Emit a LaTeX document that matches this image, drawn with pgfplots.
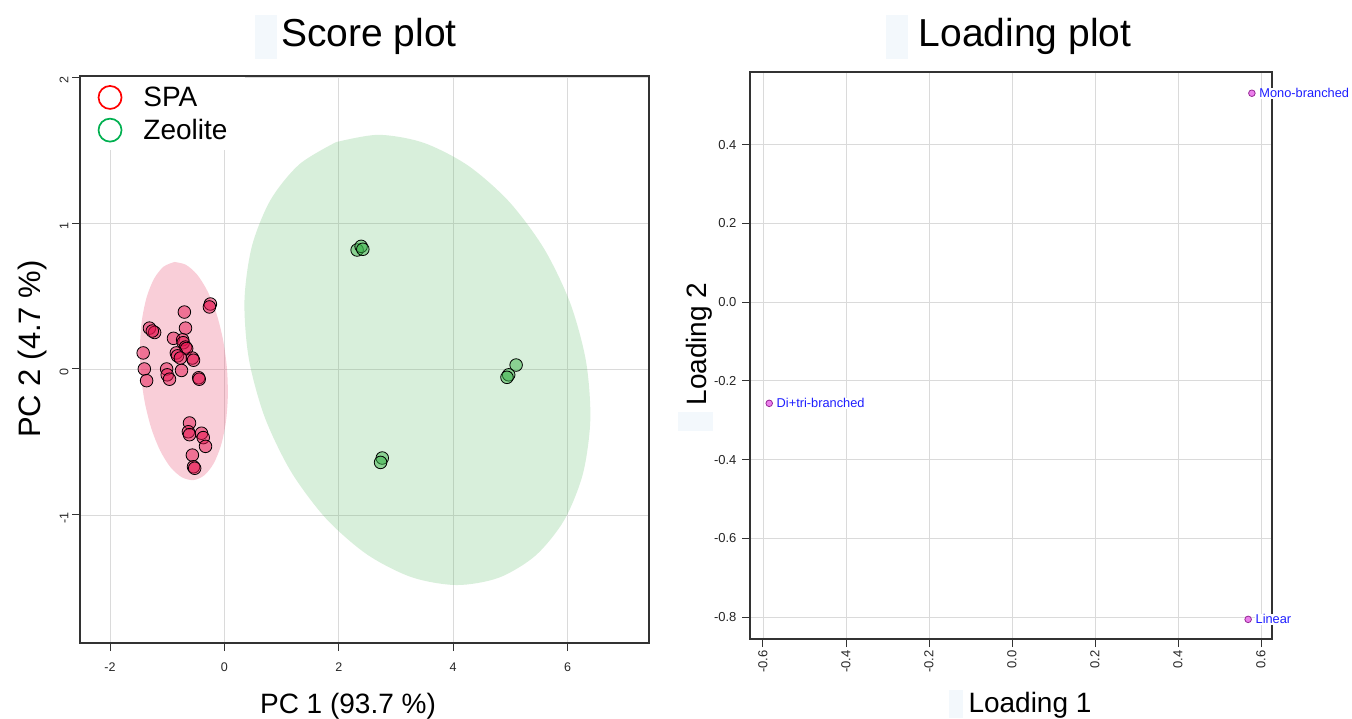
\documentclass[border=0pt]{standalone}
\usepackage{fontspec}
\setmainfont{Liberation Sans}
\usepackage{pgfplots}
\pgfplotsset{compat=1.18}
\definecolor{gridc}{RGB}{218,218,218}
\definecolor{spaell}{RGB}{230,60,100}
\definecolor{zeoell}{RGB}{100,190,110}
\definecolor{spapt}{RGB}{230,20,80}
\definecolor{zeopt}{RGB}{60,180,75}
\definecolor{legred}{RGB}{255,0,0}
\definecolor{leggreen}{RGB}{0,176,80}
\definecolor{hilite}{RGB}{243,248,252}
\definecolor{loadfill}{RGB}{236,128,236}
\definecolor{loaddraw}{RGB}{150,40,150}
\definecolor{labblue}{RGB}{30,30,255}
\pgfplotsset{
  spaleg/.style={legend image code/.code={\draw[legred,line width=1.7pt] (0pt,0pt) circle (11.5pt);}},
  zeoleg/.style={legend image code/.code={\draw[leggreen,line width=1.7pt] (0pt,0pt) circle (11.5pt);}},
  basestyle/.style={
    scale only axis,
    axis line style={black!80, line width=1.1pt},
    tick style={black!80, line width=1pt},
    tick align=outside,
    major tick length=8pt,
    tick pos=left,
    grid=major,
    major grid style={gridc, line width=0.8pt},
    /pgf/number format/assume math mode=true,
    tick label style={text=black!85},
  }
}
\begin{document}
\begin{tikzpicture}[x=1pt,y=1pt]
\useasboundingbox (0,0) rectangle (1352,718);
% light highlight boxes
\fill[hilite] (255,659) rectangle (277,703);
\fill[hilite] (886,659) rectangle (908,703);
\fill[hilite] (678,287) rectangle (713,306);
\fill[hilite] (949,0) rectangle (963,28);

\begin{axis}[basestyle,
  at={(80pt,75pt)}, anchor=south west,
  width=569pt, height=567pt,
  xmin=-2.5245, xmax=7.423, ymin=-1.877, ymax=2.007,
  xtick={-2,0,2,4,6}, ytick={-1,0,1,2},
  tick label style={font=\fontsize{12.5}{14}\selectfont},
  yticklabel style={rotate=90, anchor=south, xshift=-3pt},
  xticklabel style={yshift=-8pt},
  legend style={at={(rel axis cs:0,1)}, anchor=north west, xshift=0.9pt, yshift=-0.9pt,
    draw=none, fill=white,
    font=\fontsize{28}{32}\selectfont, inner xsep=16.6pt, inner ysep=8pt,
    row sep=8pt, column sep=20pt, nodes={inner sep=1pt}},
  legend cell align=left,
]
% confidence ellipses
\addplot[draw=none, fill=spaell, fill opacity=0.25, smooth, forget plot] coordinates {
(-0.874,0.733) (-0.674,0.714) (-0.476,0.646) (-0.294,0.532) (-0.141,0.382) (-0.026,0.204)
(0.043,0.012) (0.060,-0.183) (0.025,-0.365) (-0.060,-0.524) (-0.189,-0.648) (-0.353,-0.729)
(-0.542,-0.761) (-0.742,-0.742) (-0.940,-0.674) (-1.122,-0.560) (-1.275,-0.410) (-1.390,-0.232)
(-1.459,-0.040) (-1.476,0.155) (-1.441,0.337) (-1.356,0.496) (-1.227,0.620) (-1.063,0.701)
(-0.874,0.733)};
\addplot[draw=none, fill=zeoell, fill opacity=0.25, smooth, forget plot] coordinates {
(1.952,1.554) (2.692,1.604) (3.478,1.550) (4.257,1.394) (4.975,1.147) (5.585,0.826)
(6.044,0.453) (6.321,0.054) (6.397,-0.345) (6.268,-0.717) (5.941,-1.035) (5.439,-1.278)
(4.796,-1.430) (4.057,-1.480) (3.271,-1.426) (2.492,-1.270) (1.773,-1.023) (1.163,-0.702)
(0.704,-0.329) (0.427,0.070) (0.351,0.469) (0.481,0.841) (0.808,1.159) (1.310,1.402)
(1.952,1.554)};
% SPA scores
\addplot[only marks, mark=*, mark size=6.3pt, forget plot,
  mark options={fill=spapt, fill opacity=0.5, draw=black, line width=0.8pt}] coordinates {
(-0.245,0.445) (-0.262,0.425) (-0.70,0.39) (-1.31,0.28) (-1.22,0.25) (-1.26,0.26)
(-0.68,0.28) (-0.89,0.21) (-0.73,0.20) (-0.72,0.18) (-0.68,0.15) (-0.66,0.14)
(-1.42,0.11) (-0.84,0.11) (-0.82,0.09) (-0.77,0.075) (-0.56,0.075) (-0.54,0.06)
(-1.40,0.0) (-1.01,0.0) (-1.00,-0.04) (-0.96,-0.07) (-0.75,-0.01) (-0.45,-0.06)
(-0.44,-0.07) (-1.36,-0.08) (-0.61,-0.37) (-0.63,-0.43) (-0.61,-0.45) (-0.40,-0.44)
(-0.37,-0.47) (-0.33,-0.53) (-0.56,-0.59) (-0.54,-0.67) (-0.52,-0.68)};
% Zeolite scores
\addplot[only marks, mark=*, mark size=6.3pt, forget plot,
  mark options={fill=zeopt, fill opacity=0.5, draw=black, line width=0.8pt}] coordinates {
(2.32,0.815) (2.39,0.84) (2.42,0.82) (5.10,0.027) (4.97,-0.04) (4.94,-0.057)
(2.76,-0.61) (2.73,-0.64)};
\addlegendimage{spaleg}
\addlegendentry{SPA}
\addlegendimage{zeoleg}
\addlegendentry{Zeolite}
\end{axis}

\begin{axis}[basestyle,
  at={(750pt,79pt)}, anchor=south west,
  width=522pt, height=567pt,
  xmin=-0.6313, xmax=0.6265, ymin=-0.8559, ymax=0.585,
  xtick={-0.6,-0.4,-0.2,0,0.2,0.4,0.6},
  ytick={-0.8,-0.6,-0.4,-0.2,0,0.2,0.4},
  /pgf/number format/fixed,
  /pgf/number format/fixed zerofill,
  /pgf/number format/precision=1,
  tick label style={font=\fontsize{13}{15}\selectfont},
  xticklabel style={rotate=90, anchor=east},
  yticklabel style={xshift=-2pt},
  clip=false,
]
\addplot[only marks, mark=*, mark size=3.3pt,
  mark options={fill=loadfill, draw=loaddraw, line width=0.8pt},
  nodes near coords, point meta=explicit symbolic,
  every node near coord/.append style={anchor=west, xshift=6.5pt,
    font=\fontsize{12.8}{14}\selectfont, text=labblue, fill=white, inner sep=0.6pt}]
  coordinates {
  (0.578,0.531) [Mono-branched]
  (-0.585,-0.257) [Di+tri-branched]
  (0.569,-0.806) [Linear]
};
\end{axis}

% titles and axis labels
\node[anchor=base, font=\fontsize{39}{44}\selectfont] at (369,671) {Score plot};
\node[anchor=base, font=\fontsize{39}{44}\selectfont] at (1025,671) {Loading plot};
\node[anchor=base, font=\fontsize{28}{32}\selectfont] at (348,5) {PC 1 (93.7 \%)};
\node[anchor=base, font=\fontsize{28}{32}\selectfont] at (1030,6) {Loading 1};
\node[anchor=base, rotate=90, font=\fontsize{31}{35}\selectfont] at (40,369) {PC 2 (4.7 \%)};
\node[anchor=base, rotate=90, font=\fontsize{28}{32}\selectfont] at (706,374) {Loading 2};
\end{tikzpicture}
\end{document}
